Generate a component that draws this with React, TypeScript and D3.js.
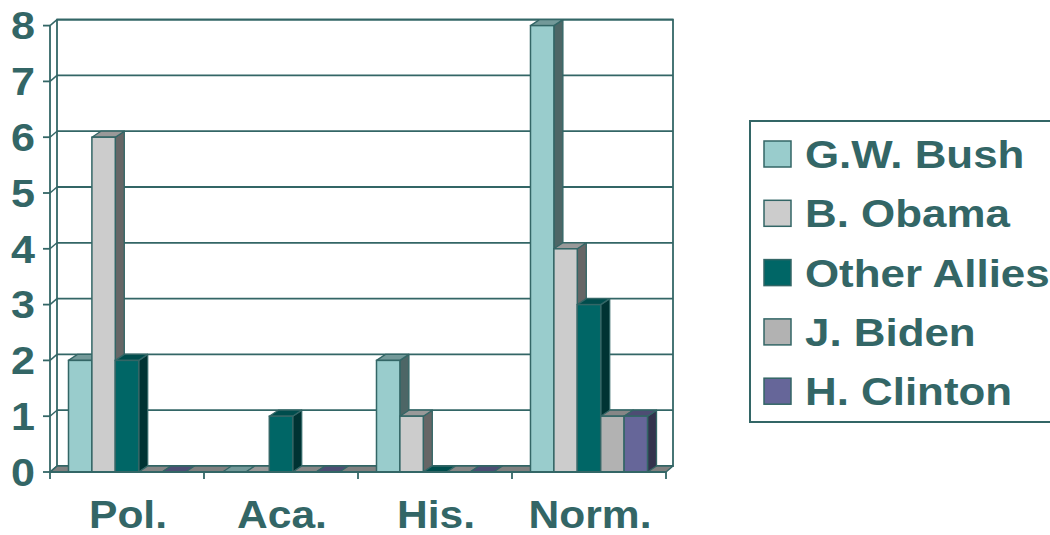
import React from "react";
import * as d3 from "d3";

const categories = ["Pol.", "Aca.", "His.", "Norm."];
const seriesNames = ["G.W. Bush", "B. Obama", "Other Allies", "J. Biden", "H. Clinton"];
const bushValues = [2, 0, 2, 8];
const obamaValues = [6, 0, 1, 4];
const alliesValues = [2, 1, 0, 3];
const bidenValues = [0, 0, 0, 1];
const clintonValues = [0, 0, 0, 1];
const seriesValues = [bushValues, obamaValues, alliesValues, bidenValues, clintonValues];
const seriesColors = ["#99CCCC", "#CCCCCC", "#006666", "#B2B2B2", "#666699"];
const yTicks = [0, 1, 2, 3, 4, 5, 6, 7, 8];

const INK = "#336666";
const FONT = "'Liberation Sans', Arial, Helvetica, sans-serif";

function shade(c: string, k: number) {
  const col = d3.rgb(c);
  return d3.rgb(col.r * k, col.g * k, col.b * k).formatHex();
}

export default function App() {
  const W = 1050, H = 535;
  const x0 = 50, x1 = 666;
  const yBase = 472, yTop = 25.6;
  const wdx = 7, wdy = -6; // wall depth
  const bdx = 9, bdy = -6; // bar depth

  const y = d3.scaleLinear().domain([0, 8]).range([yBase, yTop]);
  const xCat = d3.scaleBand<string>().domain(categories).range([x0, x1]).padding(0);
  const xSer = d3.scaleBand<string>().domain(seriesNames).range([0, xCat.bandwidth()]).paddingInner(0).paddingOuter(0.79);
  const bw = xSer.bandwidth();

  const pts = (arr: number[][]) => arr.map((p) => p.join(",")).join(" ");
  const sx = 1.12;

  const bars: JSX.Element[] = [];
  categories.forEach((cat, ci) => {
    seriesNames.forEach((s, si) => {
      const v = seriesValues[si][ci];
      const bx = (xCat(cat) as number) + (xSer(s) as number);
      const yv = y(v);
      const col = seriesColors[si];
      const top = shade(col, 0.75);
      const side = shade(col, 0.5);
      bars.push(
        <g key={cat + s}>
          {v > 0 && (
            <polygon
              points={pts([[bx + bw, yv], [bx + bw + bdx, yv + bdy], [bx + bw + bdx, yBase + bdy], [bx + bw, yBase]])}
              fill={side} stroke={INK} strokeWidth={1.3} strokeLinejoin="round"
            />
          )}
          <polygon
            points={pts([[bx, yv], [bx + bdx, yv + bdy], [bx + bw + bdx, yv + bdy], [bx + bw, yv]])}
            fill={top} stroke={INK} strokeWidth={1.3} strokeLinejoin="round"
          />
          {v > 0 && (
            <rect x={bx} y={yv} width={bw} height={yBase - yv} fill={col} stroke={INK} strokeWidth={1.5} />
          )}
        </g>
      );
    });
  });

  return (
    <svg width={W} height={H} style={{ position: "absolute", left: 0, top: 0, background: "#fff" }} fontFamily={FONT}>
      {/* back wall */}
      <rect x={x0 + wdx} y={yTop + wdy} width={x1 - x0} height={yBase - yTop} fill="#fff" stroke={INK} strokeWidth={1.8} />
      {yTicks.map((t) => (
        <line key={"g" + t} x1={x0 + wdx} x2={x1 + wdx} y1={y(t) + wdy} y2={y(t) + wdy} stroke={INK} strokeWidth={1.8} />
      ))}
      {/* floor */}
      <polygon
        points={pts([[x0, yBase], [x1, yBase], [x1 + wdx, yBase + wdy], [x0 + wdx, yBase + wdy]])}
        fill="#808080" stroke={INK} strokeWidth={1.5} strokeLinejoin="round"
      />
      {/* left axis */}
      <line x1={x0} x2={x0} y1={yTop} y2={yBase} stroke={INK} strokeWidth={1.8} />
      {yTicks.map((t) => (
        <g key={"t" + t}>
          <line x1={x0 - 7} x2={x0} y1={y(t)} y2={y(t)} stroke={INK} strokeWidth={1.8} />
          <line x1={x0} x2={x0 + wdx} y1={y(t)} y2={y(t) + wdy} stroke={INK} strokeWidth={1.5} />
          <text
            transform={`translate(35,${y(t) + 13.8}) scale(${sx},1)`}
            textAnchor="end" fontSize={38.5} fontWeight="bold" fill={INK}
          >{t}</text>
        </g>
      ))}
      {bars}
      {/* bottom axis */}
      <line x1={x0} x2={x1} y1={yBase} y2={yBase} stroke={INK} strokeWidth={1.8} />
      {categories.concat(["_end"]).map((c, i) => {
        const xx = x0 + i * xCat.step();
        return <line key={"xt" + i} x1={xx} x2={xx} y1={yBase} y2={yBase + 7} stroke={INK} strokeWidth={1.8} />;
      })}
      {categories.map((c) => (
        <text
          key={"xl" + c}
          transform={`translate(${(xCat(c) as number) + xCat.bandwidth() / 2 + 1},528) scale(${sx},1)`}
          textAnchor="middle" fontSize={38} fontWeight="bold" fill={INK}
        >{c}</text>
      ))}
      {/* legend */}
      <rect x={750} y={121} width={320} height={301} fill="#fff" stroke={INK} strokeWidth={2} />
      {seriesNames.map((s, i) => {
        const by = 168 + i * 59.3;
        return (
          <g key={"lg" + s}>
            <rect x={764} y={by - 27} width={27} height={26} fill={seriesColors[i]} stroke={INK} strokeWidth={1.5} />
            <text transform={`translate(805,${by}) scale(1.14,1)`} fontSize={38.5} fontWeight="bold" fill={INK}>{s}</text>
          </g>
        );
      })}
    </svg>
  );
}
